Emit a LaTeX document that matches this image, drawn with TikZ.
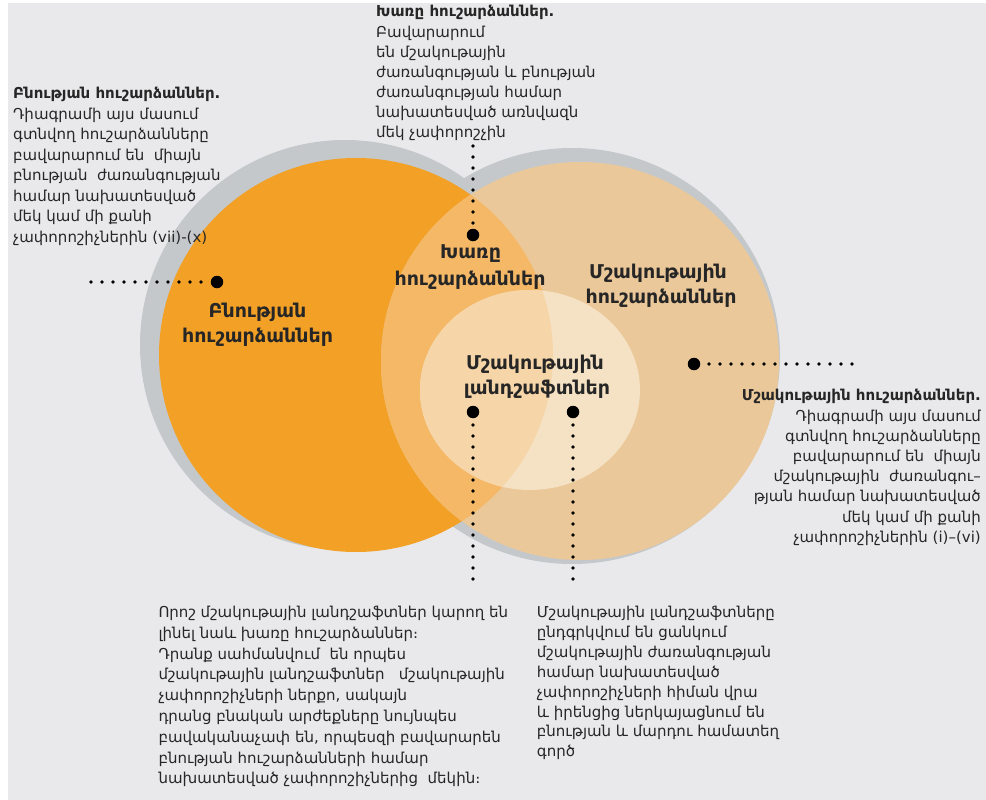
\documentclass[tikz,border=0pt]{standalone}
\usepackage{fontspec}
\setmainfont{DejaVu Sans}
\definecolor{bg}{HTML}{E9E9EB}
\definecolor{halo}{HTML}{C4C8CA}
\definecolor{nat}{HTML}{F3A126}
\definecolor{cul}{HTML}{EBC899}
\definecolor{mix}{HTML}{F4B866}
\definecolor{landA}{HTML}{F6D6A8}
\definecolor{landB}{HTML}{F5E1C3}
\definecolor{txt}{HTML}{262626}
\tikzset{
  bigdot/.style={circle,fill=black,minimum size=12.5pt,inner sep=0pt},
  dotline/.style={line width=3.6pt,dash pattern=on 0pt off 11pt,line cap=round,draw=black},
  lbl/.style={font=\bfseries\fontsize{19}{22}\selectfont,text=txt,inner sep=0pt,anchor=base},
  bodyA/.style={font=\fontsize{15}{20.5}\selectfont,text=txt,inner sep=0pt,align=left,anchor=north west},
  bodyB/.style={font=\fontsize{15}{20.1}\selectfont,text=txt,inner sep=0pt,align=left,anchor=north west},
  bodyC/.style={font=\fontsize{15}{20.2}\selectfont,text=txt,inner sep=0pt,align=right,anchor=north east},
  bodyD/.style={font=\fontsize{15}{20.8}\selectfont,text=txt,inner sep=0pt,align=left,anchor=north west},
  bodyE/.style={font=\fontsize{15}{19.9}\selectfont,text=txt,inner sep=0pt,align=left,anchor=north west},
}
\newcommand{\fstrut}{\rule{0pt}{13pt}}
\begin{document}
\begin{tikzpicture}[x=1pt,y=-1pt]
\useasboundingbox (0,0) rectangle (986,800);
\fill[white] (0,0) rectangle (986,800);
\fill[bg] (8,3) rectangle (986,800);
% circles
\fill[halo] (345,345) circle[radius=205pt];
\fill[halo] (572,356) circle[radius=208pt];
\fill[nat] (356,355) circle[radius=197pt];
\fill[cul] (580,361) circle[radius=199pt];
\begin{scope}
  \clip (356,355) circle[radius=197pt];
  \fill[mix] (580,361) circle[radius=199pt];
\end{scope}
\fill[landB] (530,390) ellipse[x radius=110pt,y radius=100pt];
\begin{scope}
  \clip (356,355) circle[radius=197pt];
  \fill[landA] (530,390) ellipse[x radius=110pt,y radius=100pt];
\end{scope}
% labels
\node[lbl] (mixA) at (470.5,258) {Խառը};
\node[lbl] (mixB) at (470,285) {հուշարձաններ};
\node[lbl] (culA) at (658,278) {Մշակութային};
\node[lbl] (culB) at (661,303) {հուշարձաններ};
\node[lbl] (natA) at (257.5,317) {Բնության};
\node[lbl] (natB) at (257.5,342) {հուշարձաններ};
\node[lbl] (lanA) at (535,369) {Մշակութային};
\node[lbl] (lanB) at (537,394) {լանդշաֆտներ};
% dots and dotted connectors
\node[bigdot] (dN) at (217,282) {};
\node[bigdot] (dM) at (473,235) {};
\node[bigdot] (dC) at (694,364) {};
\node[bigdot] (dL1) at (473,412) {};
\node[bigdot] (dL2) at (573,412) {};
\coordinate (eN) at (91,282);
\coordinate (eM) at (473,146);
\coordinate (eC) at (852,364);
\coordinate (eL1) at (473,579);
\coordinate (eL2) at (573,579);
\draw[dotline] (eN) -- (dN);
\draw[dotline] (eM) -- (dM);
\draw[dotline] (eC) -- (dC);
\draw[dotline] (eL1) -- (dL1);
\draw[dotline] (eL2) -- (dL2);
% text blocks
\node[bodyA] (tN) at (13,85.3) {\fstrut\textbf{Բնության հուշարձաններ.}\\
Դիագրամի այս մասում\\
գտնվող հուշարձանները\\
բավարարում են~ միայն\\
բնության~ ժառանգության\\
համար նախատեսված\\
մեկ կամ մի քանի\\
չափորոշիչներին (vii)-(x)};
\node[bodyB] (tM) at (376,3.7) {\fstrut\textbf{Խառը հուշարձաններ.}\\
Բավարարում\\
են մշակութային\\
ժառանգության և բնության\\
ժառանգության համար\\
նախատեսված առնվազն\\
մեկ չափորոշչին};
\node[bodyC] (tC) at (981,387.7) {\fstrut\textbf{Մշակութային հուշարձաններ.}\\
Դիագրամի այս մասում\\
գտնվող հուշարձանները\\
բավարարում են~ միայն\\
մշակութային~ ժառանգու–\\
թյան համար նախատեսված\\
մեկ կամ մի քանի\\
չափորոշիչներին (i)–(vi)};
\node[bodyD] (tL1) at (158.3,604.3) {\fstrut Որոշ մշակութային լանդշաֆտներ կարող են\\
լինել նաև խառը հուշարձաններ։\\
Դրանք սահմանվում~ են որպես\\
մշակութային լանդշաֆտներ~~ մշակութային\\
չափորոշիչների ներքո, սակայն\\
դրանց բնական արժեքները նույնպես\\
բավականաչափ են, որպեսզի բավարարեն\\
բնության հուշարձանների համար\\
նախատեսված չափորոշիչներից~ մեկին։};
\node[bodyE] (tL2) at (536.7,604.3) {\fstrut Մշակութային լանդշաֆտները\\
ընդգրկվում են ցանկում\\
մշակութային ժառանգության\\
համար նախատեսված\\
չափորոշիչների հիման վրա\\
և իրենցից ներկայացնում են\\
բնության և մարդու համատեղ\\
գործ};
\end{tikzpicture}
\end{document}
